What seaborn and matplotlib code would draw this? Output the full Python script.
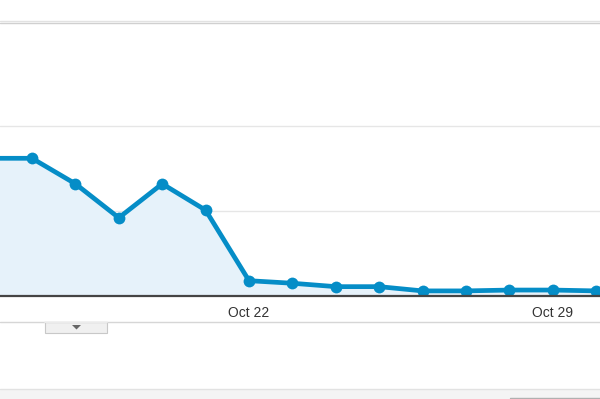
import matplotlib
matplotlib.use("Agg")
import matplotlib.pyplot as plt
import matplotlib.dates as mdates
from matplotlib.lines import Line2D
from matplotlib.patches import Rectangle, Polygon
import seaborn as sns
import pandas as pd

# ---- data ----
dates = ["2012-10-16", "2012-10-17", "2012-10-18", "2012-10-19", "2012-10-20",
         "2012-10-21", "2012-10-22", "2012-10-23", "2012-10-24", "2012-10-25",
         "2012-10-26", "2012-10-27", "2012-10-28", "2012-10-29", "2012-10-30"]
visits = [162, 162, 132, 92, 132, 101, 18, 15, 11, 11, 6, 6, 7, 7, 6]
tick_dates = ["2012-10-22", "2012-10-29"]
tick_labels = ["Oct 22", "Oct 29"]
grid_values = [0, 100, 200]

df = pd.DataFrame({"date": pd.to_datetime(dates), "visits": visits})

sns.set_theme(style="white")
plt.rcParams["font.family"] = ["Liberation Sans", "DejaVu Sans"]

W, H = 600, 399
fig = plt.figure(figsize=(6.0, 3.99), dpi=100)
fig.patch.set_facecolor("white")

def fy(py):
    return 1 - py / H

ax = fig.add_axes([0, fy(296), 1, fy(22) - fy(296)])
ax.set_facecolor("white")

blue = "#058dc7"
ax.fill_between(df["date"], df["visits"], 0, color="#e6f2fa", zorder=1)
sns.lineplot(data=df, x="date", y="visits", ax=ax, color=blue, linewidth=3.4,
             marker="o", markersize=8.5, markeredgewidth=0, zorder=3)

# scales: 85 px per 100 units; 43.4 px per day
oct22 = mdates.date2num(pd.Timestamp("2012-10-22"))
ax.set_xlim(oct22 - 249 / 43.4, oct22 + (600 - 249) / 43.4)
ax.set_ylim(0, (296 - 22) / 85 * 100)

for g in grid_values[1:]:
    ax.axhline(g, color="#e6e6e6", linewidth=1, zorder=0)

ax.set_xticks([mdates.date2num(pd.Timestamp(d)) for d in tick_dates])
ax.set_xticklabels(tick_labels)
ax.tick_params(axis="x", length=0, pad=7, labelsize=10, labelcolor="#333333")
ax.set_yticks([])
ax.set_xlabel("")
ax.set_ylabel("")
for s in ["top", "left", "right"]:
    ax.spines[s].set_visible(False)
ax.spines["bottom"].set_color("#444444")
ax.spines["bottom"].set_linewidth(1.6)
ax.spines["bottom"].set_zorder(4)

# ---- surrounding page decorations ----
fig.add_artist(Line2D([0, 1], [fy(21), fy(21)], color="#e2e2e2", linewidth=1.0))
fig.add_artist(Line2D([0, 1], [fy(22.5), fy(22.5)], color="#d0d0d0", linewidth=1.0))
fig.add_artist(Line2D([0, 1], [fy(322), fy(322)], color="#d6d6d6", linewidth=1.0))
# tab button
fig.add_artist(Rectangle((45 / W, fy(333)), 62 / W, 11 / H, facecolor="#f0f0f0",
                         edgecolor="#c8c8c8", linewidth=0.8))
fig.add_artist(Line2D([45 / W, 107 / W], [fy(322), fy(322)], color="#f0f0f0", linewidth=1.2))
fig.add_artist(Polygon([(72 / W, fy(325)), (81 / W, fy(325)), (76.5 / W, fy(329.5))],
                       closed=True, facecolor="#666666", edgecolor="none"))
# bottom band
fig.add_artist(Rectangle((0, 0), 1, fy(389), facecolor="#f4f4f4", edgecolor="none"))
fig.add_artist(Line2D([0, 1], [fy(389), fy(389)], color="#e2e2e2", linewidth=1.0))
fig.add_artist(Line2D([510 / W, 1], [fy(397.5), fy(397.5)], color="#b0b0b0", linewidth=1.0))

fig.savefig("out.png", dpi=100)
